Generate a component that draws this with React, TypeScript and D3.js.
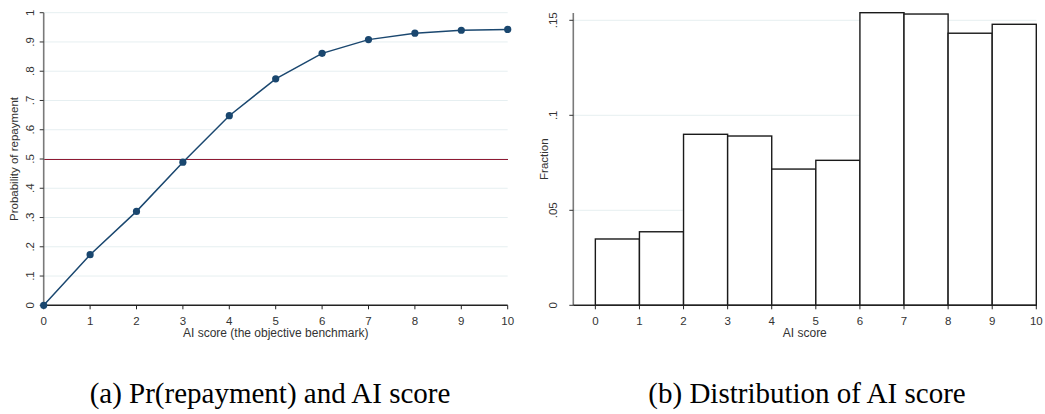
import * as d3 from "d3";

// Panel (a): probability of repayment by AI score
const SCORES = [0, 1, 2, 3, 4, 5, 6, 7, 8, 9, 10];
const REPAY_PROB = [0, 0.173, 0.321, 0.489, 0.648, 0.774, 0.861, 0.908, 0.93, 0.94, 0.943];
const PROB_TICKS = [0, 0.1, 0.2, 0.3, 0.4, 0.5, 0.6, 0.7, 0.8, 0.9, 1];
const PROB_TICK_LABELS = ["0", ".1", ".2", ".3", ".4", ".5", ".6", ".7", ".8", ".9", "1"];
const THRESHOLD = 0.5;

// Panel (b): histogram of AI score
const BIN_STARTS = [0, 1, 2, 3, 4, 5, 6, 7, 8, 9];
const FRACTIONS = [0.0349, 0.0387, 0.09, 0.0891, 0.0717, 0.0763, 0.154, 0.1533, 0.1432, 0.1479];
const FRAC_TICKS = [0, 0.05, 0.1, 0.15];
const FRAC_TICK_LABELS = ["0", ".05", ".1", ".15"];

const SANS = "'Liberation Sans', Arial, sans-serif";
const SERIF = "'Liberation Serif', 'Times New Roman', serif";
const NAVY = "#1a476f";
const GRID = "#e6eff1";
const AXIS_GRAY = "#7a7a7a";
const FS = 11.5;

export default function App() {
  const W = 1045;
  const H = 414;
  const bottom = 305.3;
  const top = 12.7;

  // left panel scales
  const xA = d3.scaleLinear().domain([0, 10]).range([43.7, 507.7]);
  const yA = d3.scaleLinear().domain([0, 1]).range([bottom, top]);
  const line = d3.line<number>()
    .x((_, i) => xA(SCORES[i]))
    .y((d) => yA(d));

  // right panel scales
  const xB = d3.scaleLinear().domain([-0.5, 10]).range([573.3, 1036.3]);
  const yB = d3.scaleLinear().domain([0, 0.15]).range([bottom, 20.3]);
  const yBTop = 13;

  return (
    <svg width={W} height={H} style={{ position: "absolute", left: 0, top: 0 }}>
      <rect width={W} height={H} fill="white" />

      {/* ---------- (a) ---------- */}
      <g>
        {PROB_TICKS.slice(1).map((t) => (
          <line key={t} x1={xA(0)} x2={xA(10)} y1={yA(t)} y2={yA(t)} stroke={GRID} strokeWidth={1} />
        ))}
        <line x1={xA(0)} x2={xA(10)} y1={yA(THRESHOLD)} y2={yA(THRESHOLD)} stroke="#8e1a33" strokeWidth={1}
          shapeRendering="crispEdges" />

        {/* y axis */}
        <line x1={xA(0)} x2={xA(0)} y1={yA(0)} y2={yA(1)} stroke={AXIS_GRAY} strokeWidth={1.6} />
        {PROB_TICKS.map((t, i) => (
          <g key={t}>
            <line x1={xA(0) - 4} x2={xA(0)} y1={yA(t)} y2={yA(t)} stroke="#333" strokeWidth={1} />
            <text transform={`translate(33.5,${yA(t)}) rotate(-90)`} textAnchor="middle"
              fontSize={FS} fontFamily={SANS} fill="#333">
              {PROB_TICK_LABELS[i]}
            </text>
          </g>
        ))}
        <text transform={`translate(18,${(yA(0) + yA(1)) / 2}) rotate(-90)`} textAnchor="middle"
          fontSize={FS} fontFamily={SANS} fill="#333">
          Probability of repayment
        </text>

        {/* x axis */}
        <line x1={xA(0)} x2={xA(10)} y1={bottom} y2={bottom} stroke="#222" strokeWidth={1.4} />
        {SCORES.map((s) => (
          <g key={s}>
            <line x1={xA(s)} x2={xA(s)} y1={bottom} y2={bottom + 4} stroke="#222" strokeWidth={1} />
            <text x={xA(s)} y={324.5} textAnchor="middle" fontSize={FS} fontFamily={SANS} fill="#333">{s}</text>
          </g>
        ))}
        <text x={(xA(0) + xA(10)) / 2} y={336.5} textAnchor="middle" fontSize={12} fontFamily={SANS} fill="#333">
          AI score (the objective benchmark)
        </text>

        {/* series */}
        <path d={line(REPAY_PROB) ?? ""} fill="none" stroke={NAVY} strokeWidth={1.5} />
        {REPAY_PROB.map((p, i) => (
          <circle key={i} cx={xA(SCORES[i])} cy={yA(p)} r={3.6} fill={NAVY} />
        ))}

        <text x={270} y={402.5} textAnchor="middle" fontSize={29} fontFamily={SERIF} fill="#000">
          (a) Pr(repayment) and AI score
        </text>
      </g>

      {/* ---------- (b) ---------- */}
      <g>
        {FRAC_TICKS.slice(1).map((t) => (
          <line key={t} x1={xB(-0.5)} x2={xB(10)} y1={yB(t)} y2={yB(t)} stroke={GRID} strokeWidth={1} />
        ))}

        {BIN_STARTS.map((b, i) => (
          <rect key={b} x={xB(b)} y={yB(FRACTIONS[i])} width={xB(b + 1) - xB(b)} height={bottom - yB(FRACTIONS[i])}
            fill="white" stroke="#1a1a1a" strokeWidth={1.4} />
        ))}

        {/* y axis */}
        <line x1={xB(-0.5)} x2={xB(-0.5)} y1={bottom} y2={yBTop} stroke={AXIS_GRAY} strokeWidth={1.6} />
        {FRAC_TICKS.map((t, i) => (
          <g key={t}>
            <line x1={xB(-0.5) - 4} x2={xB(-0.5)} y1={yB(t)} y2={yB(t)} stroke="#333" strokeWidth={1} />
            <text transform={`translate(556.5,${yB(t)}) rotate(-90)`} textAnchor="middle"
              fontSize={FS} fontFamily={SANS} fill="#333">
              {FRAC_TICK_LABELS[i]}
            </text>
          </g>
        ))}
        <text transform={`translate(548.3,${(bottom + yBTop) / 2}) rotate(-90)`} textAnchor="middle"
          fontSize={FS} fontFamily={SANS} fill="#333">
          Fraction
        </text>

        {/* x axis */}
        <line x1={xB(-0.5)} x2={xB(10)} y1={bottom} y2={bottom} stroke="#222" strokeWidth={1.6} />
        {SCORES.map((s) => (
          <g key={s}>
            <line x1={xB(s)} x2={xB(s)} y1={bottom} y2={bottom + 4} stroke="#222" strokeWidth={1} />
            <text x={xB(s)} y={324.5} textAnchor="middle" fontSize={FS} fontFamily={SANS} fill="#333">{s}</text>
          </g>
        ))}
        <text x={(xB(-0.5) + xB(10)) / 2} y={336.5} textAnchor="middle" fontSize={12} fontFamily={SANS} fill="#333">
          AI score
        </text>

        <text x={807} y={402.5} textAnchor="middle" fontSize={29} fontFamily={SERIF} fill="#000">
          (b) Distribution of AI score
        </text>
      </g>
    </svg>
  );
}
